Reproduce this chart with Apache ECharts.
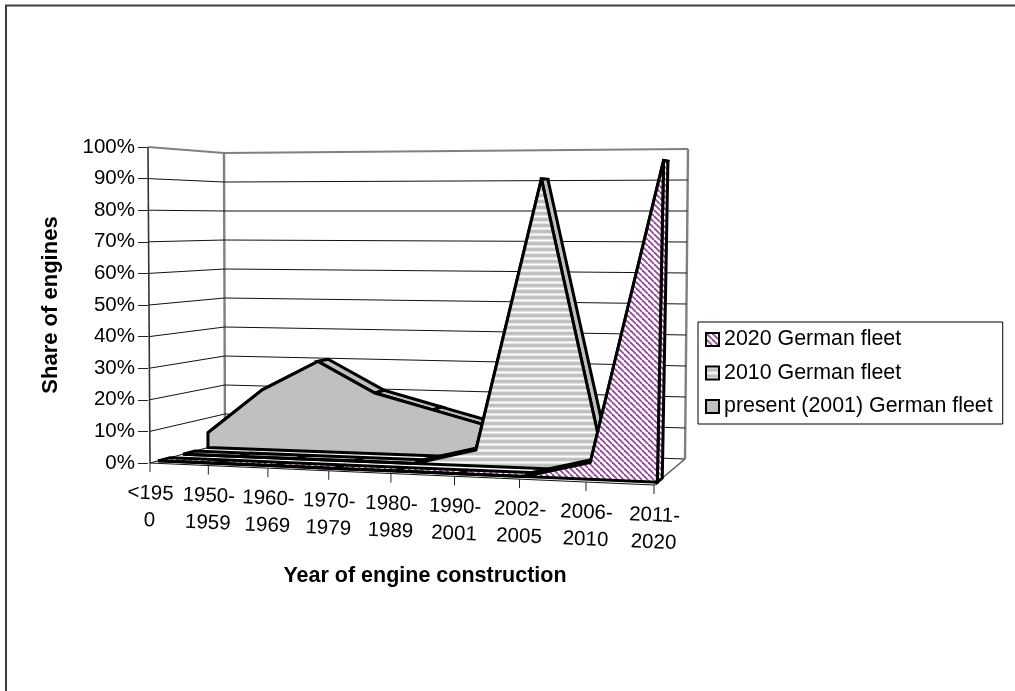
<!DOCTYPE html>
<html>
<head>
<meta charset="utf-8">
<title>Share of engines</title>
<script src="https://cdn.jsdelivr.net/npm/echarts@6/dist/echarts.min.js"></script>
<style>
  html, body { margin: 0; padding: 0; background: #fff; }
  #chart { width: 1015px; height: 691px; }
</style>
</head>
<body>
<div id="chart"></div>
<script>
const categories = ["<195\n0", "1950-\n1959", "1960-\n1969", "1970-\n1979", "1980-\n1989", "1990-\n2001", "2002-\n2005", "2006-\n2010", "2011-\n2020"];
const yTicks = [0, 10, 20, 30, 40, 50, 60, 70, 80, 90, 100];
const fleet2020 = [0, 0, 0, 0, 0, 0, 0, 5, 95];
const fleet2010 = [0, 0, 0, 0, 0, 5, 90, 5];
const fleetPresent = [5, 20, 30, 20, 15, 10, 0, 0];

// the flat grid is taken as the front plane, then skewed onto the 3d box
const gridLeft = 148, gridTop = 147, gridW = 506, gridH = 316;
const box = {
  fbl: [150, 463], fbr: [654, 485], ftl: [148, 147], ftr: [661, 143],
  bbl: [225, 443], bbr: [685, 459], btl: [224, 153], btr: [688, 149]
};
const persp = 0.916;
const slabDepth = 0.16;

function lerp(a, b, t) {
  return [a[0] + (b[0] - a[0]) * t, a[1] + (b[1] - a[1]) * t];
}
function project(api, x, val, d) {
  const p = api.coord([x, val]);
  const u = (p[0] - gridLeft) / gridW;
  const v = (gridTop + gridH - p[1]) / gridH;
  const ue = persp * u / (1 + (persp - 1) * u);
  const front = lerp(lerp(box.fbl, box.fbr, ue), lerp(box.ftl, box.ftr, ue), v);
  const back = lerp(lerp(box.bbl, box.bbr, ue), lerp(box.btl, box.btr, ue), v);
  return lerp(front, back, d);
}

function stripes(draw, w, h) {
  const c = document.createElement("canvas");
  c.width = w;
  c.height = h;
  const ctx = c.getContext("2d");
  ctx.fillStyle = "#fff";
  ctx.fillRect(0, 0, w, h);
  draw(ctx);
  return { image: c, repeat: "repeat" };
}
const hatch = stripes(function (ctx) {
  ctx.strokeStyle = "#93479a";
  ctx.lineWidth = 1.8;
  for (let i = -6; i <= 12; i += 6) {
    ctx.beginPath();
    ctx.moveTo(i, 0);
    ctx.lineTo(i + 6, 6);
    ctx.stroke();
  }
}, 6, 6);
const hbars = stripes(function (ctx) {
  const rows = ["#fff", "#e2e2e2", "#c4c4c4", "#bdbdbd", "#c4c4c4", "#e2e2e2"];
  rows.forEach(function (c, i) {
    ctx.fillStyle = c;
    ctx.fillRect(0, i, 6, 1);
  });
}, 6, 6);
const grey = "#c0c0c0";

function line(points, color, width) {
  return {
    type: "polyline",
    shape: { points: points },
    style: { stroke: color, lineWidth: width, fill: null }
  };
}

function renderWalls(params, api) {
  const val = api.value(0);
  const top = val === 100;
  const color = top ? "#808080" : "#111";
  const kids = [line([
    project(api, 0, val, 0),
    project(api, 0, val, 1),
    project(api, 8, val, 1)
  ], color, top ? 2 : 1)];
  if (params.dataIndex === 0) {
    kids.push(line([project(api, 0, 0, 0), project(api, 0, 100, 0)], "#333", 1.6));
    kids.push(line([project(api, 0, 0, 1), project(api, 0, 100, 1)], "#808080", 2.4));
    kids.push(line([project(api, 8, 0, 1), project(api, 8, 100, 1)], "#808080", 2.4));
    kids.push(line([project(api, 8, 0, 0), project(api, 8, 0, 1)], "#555", 1.4));
  }
  return { type: "group", children: kids };
}

function renderFleet(fill, topFill, depth) {
  return function (params, api) {
    const n = params.dataInsideLength;
    if (params.dataIndex !== 0) return null;
    const front = [], rear = [];
    for (let i = 0; i < n; i++) {
      const x = api.value(0, i), val = api.value(1, i);
      front.push(project(api, x, val, depth));
      rear.push(project(api, x, val, depth + slabDepth));
    }
    const edge = { stroke: "#000", lineWidth: 3, lineJoin: "miter", miterLimit: 4 };
    const kids = [];
    for (let i = 0; i < n - 1; i++) {
      kids.push({
        type: "polygon",
        shape: { points: [front[i], front[i + 1], rear[i + 1], rear[i]] },
        style: Object.assign({ fill: topFill }, edge)
      });
    }
    const last = n - 1;
    kids.push({
      type: "polygon",
      shape: { points: [front[last], rear[last], project(api, last, 0, depth + slabDepth), project(api, last, 0, depth)] },
      style: Object.assign({ fill: topFill }, edge)
    });
    const outline = front.slice();
    outline.push(project(api, last, 0, depth));
    outline.push(project(api, 0, 0, depth));
    kids.push({
      type: "polygon",
      shape: { points: outline },
      style: Object.assign({ fill: fill }, edge)
    });
    return { type: "group", children: kids };
  };
}

function renderCategory(params, api) {
  const i = api.value(0);
  const base = project(api, i, 0, 0);
  const kids = [
    line([base, [base[0], base[1] + 9]], "#222", 1),
    {
      type: "text",
      x: base[0],
      y: base[1] + 44,
      rotation: -0.04,
      style: {
        text: categories[i],
        fill: "#000",
        font: "20.5px 'Liberation Sans', Arial, sans-serif",
        lineHeight: 27,
        align: "center",
        verticalAlign: "middle"
      }
    }
  ];
  if (i === 0) {
    kids.push(line([base, project(api, 8, 0, 0)], "#111", 1.2));
  }
  return { type: "group", children: kids };
}

function indexed(values) {
  return values.map(function (v, i) { return [i, v]; });
}

const chart = echarts.init(document.getElementById("chart"), null, { renderer: "canvas" });
const font = "'Liberation Sans', Arial, sans-serif";

chart.setOption({
  animation: false,
  backgroundColor: "#fff",
  textStyle: { fontFamily: font },
  graphic: [{
    type: "polyline",
    shape: { points: [[6, 691], [6, 5.5], [1015, 5.5]] },
    style: { fill: null, stroke: "#3c3c3c", lineWidth: 2 },
    z: 0
  }],
  title: {
    text: "Year of engine construction",
    left: 425,
    top: 565,
    textAlign: "center",
    padding: 0,
    textStyle: { fontSize: 21.5, fontWeight: "bold", color: "#000", fontFamily: font }
  },
  grid: { left: gridLeft, top: gridTop, width: gridW, height: gridH },
  xAxis: { type: "value", min: 0, max: 8, show: false },
  yAxis: {
    type: "value",
    min: 0,
    max: 100,
    interval: 10,
    name: "Share of engines",
    nameLocation: "middle",
    nameRotate: 90,
    nameGap: 86,
    nameTextStyle: { fontSize: 22, fontWeight: "bold", color: "#000", fontFamily: font },
    axisLine: { show: false },
    axisTick: { show: true, length: 10, lineStyle: { color: "#222" } },
    splitLine: { show: false },
    axisLabel: {
      margin: 13,
      fontSize: 20.5,
      color: "#000",
      fontFamily: font,
      formatter: "{value}%"
    }
  },
  legend: {
    orient: "vertical",
    left: 698,
    top: 322,
    padding: [7, 10, 7, 7],
    itemGap: 12.5,
    itemWidth: 13,
    itemHeight: 13,
    backgroundColor: "#fff",
    borderColor: "#000",
    borderWidth: 1,
    borderRadius: 0,
    selectedMode: false,
    textStyle: { fontSize: 21.4, color: "#000", fontFamily: font, padding: [0, 0, 0, 0] },
    data: [
      { name: "2020 German fleet", icon: "rect", itemStyle: { color: hatch, borderColor: "#000", borderWidth: 2 } },
      { name: "2010 German fleet", icon: "rect", itemStyle: { color: hbars, borderColor: "#000", borderWidth: 2 } },
      { name: "present (2001) German fleet", icon: "rect", itemStyle: { color: grey, borderColor: "#000", borderWidth: 2 } }
    ]
  },
  series: [
    {
      type: "custom", name: "walls", silent: true, clip: false, z: 1,
      renderItem: renderWalls,
      encode: { x: -1, y: 0 },
      data: yTicks.map(function (t) { return [t]; })
    },
    {
      type: "custom", name: "present (2001) German fleet", silent: true, clip: false, z: 2,
      renderItem: renderFleet(grey, grey, 0.773),
      data: indexed(fleetPresent)
    },
    {
      type: "custom", name: "2010 German fleet", silent: true, clip: false, z: 3,
      renderItem: renderFleet(hbars, grey, 0.44),
      data: indexed(fleet2010)
    },
    {
      type: "custom", name: "2020 German fleet", silent: true, clip: false, z: 4,
      renderItem: renderFleet(hatch, hatch, 0.107),
      data: indexed(fleet2020)
    },
    {
      type: "custom", name: "categories", silent: true, clip: false, z: 5,
      renderItem: renderCategory,
      data: categories.map(function (c, i) { return [i, 0]; })
    }
  ]
});
</script>
</body>
</html>
